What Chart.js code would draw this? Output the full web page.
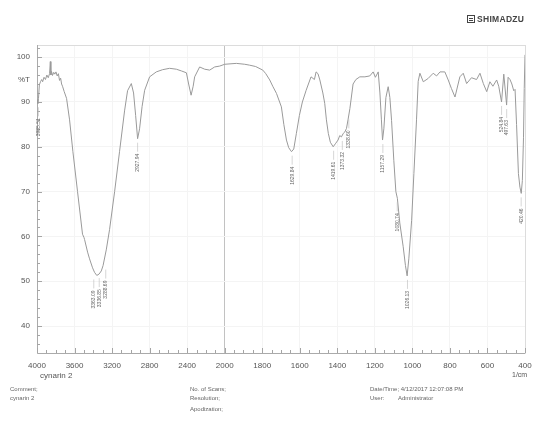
<!DOCTYPE html>
<html>
<head>
<meta charset="utf-8">
<script src="https://cdn.jsdelivr.net/npm/chart.js@4/dist/chart.umd.min.js"></script>
<style>
  html, body { margin:0; padding:0; background:#fff; }
  #wrap { position:relative; width:550px; height:425px; font-family:"Liberation Sans", Arial, sans-serif; color:#555; }
  canvas { position:absolute; left:0; top:0; }
  .t { position:absolute; white-space:nowrap; line-height:1; }
  .f { font-size:6px; color:#666; }
  #logo { position:absolute; left:467px; top:14px; height:10px; display:flex; align-items:center; }
  #logo .ic { width:8px; height:8px; border:1px solid #444; box-sizing:border-box; position:relative; margin-right:2px; }
  #logo .ic:before { content:""; position:absolute; left:1px; right:1px; top:2px; height:1px; background:#444; }
  #logo .ic:after { content:""; position:absolute; left:1px; right:1px; top:4px; height:1px; background:#444; }
  #logo span { font-size:8.5px; font-weight:bold; color:#444; letter-spacing:0.3px; }
</style>
</head>
<body>
<div id="wrap">
  <canvas id="c" width="550" height="425"></canvas>
  <div id="logo"><div class="ic"></div><span>SHIMADZU</span></div>
  <div class="t" style="left:40px;top:372px;font-size:8px;color:#555;">cynarin 2</div>
  <div class="t" style="left:512px;top:371px;font-size:7px;color:#555;">1/cm</div>
  <div class="t f" style="left:10px;top:386px;">Comment;</div>
  <div class="t f" style="left:10px;top:395px;">cynarin 2</div>
  <div class="t f" style="left:190px;top:386px;">No. of Scans;</div>
  <div class="t f" style="left:190px;top:395px;">Resolution;</div>
  <div class="t f" style="left:190px;top:406px;">Apodization;</div>
  <div class="t f" style="left:370px;top:386px;">Date/Time; 4/12/2017 12:07:08 PM</div>
  <div class="t f" style="left:370px;top:395px;">User:</div>
  <div class="t f" style="left:398px;top:395px;">Administrator</div>
</div>
<script>
// ---- data ----
const wavenumbers = [4000,3992,3984,3975,3963,3950,3940,3925,3910,3895,3880,3866,3858,3852,3845,3835,3822,3810,3798,3785,3772,3760,3748,3738,3728,3710,3685,3653,3618,3568,3515,3500,3493,3461,3440,3408,3387,3363,3339,3315,3296,3262,3227,3173,3120,3067,3035,2995,2971,2949,2928,2907,2880,2853,2800,2729,2661,2587,2515,2459,2408,2384,2358,2336,2320,2267,2213,2160,2107,2053,2000,1938,1893,1867,1835,1797,1781,1760,1744,1724,1698,1685,1671,1659,1644,1632,1618,1602,1586,1566,1540,1522,1513,1503,1493,1477,1467,1458,1448,1437,1422,1408,1396,1387,1378,1368,1360,1351,1343,1333,1316,1301,1280,1253,1227,1209,1197,1182,1173,1165,1159,1152,1141,1129,1120,1111,1099,1088,1080,1067,1049,1037,1028,1019,1004,992,978,969,960,942,917,889,871,853,827,809,792,773,747,729,711,685,658,640,622,604,587,571,551,540,525,513,498,490,480,470,460,453,445,435,427,420,414,408,404,400];
const transmittance = [90.5,89.6,90.8,93.8,94.5,95.0,94.5,95.5,95.0,96.0,95.4,96.3,99.0,96.0,96.8,95.9,96.6,96.2,96.7,95.8,96.3,94.8,95.3,94.0,93.5,92.3,90.8,86.0,79.0,70.0,60.5,59.8,59.3,56.5,55.0,53.0,52.0,51.3,51.6,52.3,53.5,57.0,61.5,70.0,79.0,88.0,92.5,94.1,92.0,87.0,81.8,84.0,89.0,92.6,95.6,96.7,97.2,97.5,97.3,96.9,96.5,94.0,91.5,93.5,95.6,97.8,97.3,97.1,97.8,98.0,98.4,98.6,98.4,98.2,97.9,97.1,96.3,94.9,93.5,91.9,88.9,85.0,81.5,79.8,78.9,79.5,83.0,87.0,90.0,92.6,95.6,95.0,96.7,96.3,94.9,92.0,89.7,86.0,83.0,81.0,80.0,80.8,81.5,82.5,82.2,83.0,83.3,84.1,86.0,88.5,94.0,95.0,95.6,95.6,95.8,96.7,95.5,96.7,92.0,86.0,81.5,84.0,91.0,93.4,91.0,85.9,77.0,70.0,68.5,63.0,57.7,53.5,51.2,55.0,63.6,74.0,86.0,94.6,96.4,94.5,95.2,96.4,95.8,96.7,96.7,94.9,93.0,91.1,95.6,96.4,94.1,95.4,95.0,96.4,94.1,92.3,94.5,93.5,94.9,93.5,90.0,96.2,89.3,95.5,95.0,94.0,92.5,92.8,85.0,74.0,71.0,69.6,72.5,82.0,93.0,100.5];
const peakLabels = ['3985.51','3363.09','3336.85','3288.69','2927.94','1629.84','1419.61','1373.32','1338.60','1157.29','1080.74','1026.13','524.84','497.63','420.46'];
const peakWavenumbers = [3985.51,3363.09,3336.85,3288.69,2927.94,1629.84,1419.61,1373.32,1338.60,1157.29,1080.74,1026.13,524.84,497.63,420.46];
const peakTransmittance = [89.7,51.3,51.6,53.5,81.8,78.9,80.0,82.2,87.0,81.5,68.5,51.2,90.0,89.3,69.6];
const xTickWavenumbers = [4000,3600,3200,2800,2400,2000,1800,1600,1400,1200,1000,800,600,400];
const yTickValues = [40,50,60,70,80,90,100];

// ---- wavenumber axis with the usual scale change at 2000 1/cm ----
function toAxis(w){ return w >= 2000 ? (4000 - w) / 2 : 1000 + (2000 - w); }
function fromAxis(u){ return u <= 1000 ? 4000 - 2*u : 2000 - (u - 1000); }

const points = wavenumbers.map((w,i)=>({x: toAxis(w), y: transmittance[i]}));

const labelNudge = {'3363.09': -3, '3336.85': 0, '3288.69': 2, '1629.84': -2};

const decor = {
  id: 'decor',
  beforeDatasetsDraw(chart){
    const {ctx, chartArea:a, scales:{x, y}} = chart;
    ctx.save();
    ctx.strokeStyle = '#dcdcdc'; ctx.lineWidth = 1;
    ctx.strokeRect(a.left+0.5, a.top+0.5, a.right-a.left, a.bottom-a.top);
    ctx.strokeStyle = '#aaa';
    ctx.beginPath();
    ctx.moveTo(a.left+0.5, a.top); ctx.lineTo(a.left+0.5, a.bottom+0.5);
    ctx.lineTo(a.right, a.bottom+0.5); ctx.stroke();
    ctx.strokeStyle = '#a5a5a5';
    ctx.beginPath();
    for (let u = 0; u <= 2600; u += 50){
      const px = Math.round(x.getPixelForValue(u)) + 0.5;
      const len = (u % 200 === 0) ? 5 : 3;
      ctx.moveTo(px, a.bottom); ctx.lineTo(px, a.bottom - len);
    }
    for (let v = 36; v <= 102; v += 2){
      const py = Math.round(y.getPixelForValue(v)) + 0.5;
      const len = (v % 10 === 0) ? 5 : 3;
      ctx.moveTo(a.left, py); ctx.lineTo(a.left + len, py);
    }
    ctx.stroke();
    ctx.restore();
  },
  afterDatasetsDraw(chart){
    const {ctx, scales:{x, y}} = chart;
    ctx.save();
    ctx.font = '5px "Liberation Sans", Arial, sans-serif';
    ctx.fillStyle = '#666';
    ctx.strokeStyle = '#bbb';
    ctx.lineWidth = 0.6;
    peakLabels.forEach((lab, i) => {
      const px = x.getPixelForValue(toAxis(peakWavenumbers[i])) + (labelNudge[lab] || 0);
      const py = y.getPixelForValue(peakTransmittance[i]);
      const top = py + 15;
      ctx.beginPath();
      ctx.moveTo(px, py + 4); ctx.lineTo(px, top - 2); ctx.stroke();
      ctx.save();
      ctx.translate(px, top);
      ctx.rotate(-Math.PI/2);
      ctx.textAlign = 'right';
      ctx.textBaseline = 'middle';
      ctx.fillText(lab, 0, 0);
      ctx.restore();
    });
    ctx.restore();
  }
};

new Chart(document.getElementById('c'), {
  type: 'line',
  data: { datasets: [{
    data: points,
    borderColor: '#9a9a9a',
    borderWidth: 1,
    pointRadius: 0,
    tension: 0,
    fill: false
  }]},
  options: {
    responsive: false,
    animation: false,
    layout: { padding: { left: 0, top: 45, right: 25, bottom: 0 } },
    plugins: { legend: { display: false }, tooltip: { enabled: false } },
    scales: {
      x: {
        type: 'linear', min: 0, max: 2600,
        afterFit(s){ s.height = 72; },
        afterBuildTicks(s){ s.ticks = xTickWavenumbers.map(w => ({value: toAxis(w)})); },
        border: { display: false },
        grid: {
          drawTicks: false,
          color: ctx => (ctx.tick && ctx.tick.value === 1000) ? '#c2c2c2' : '#f4f4f4',
          lineWidth: 1
        },
        ticks: {
          autoSkip: false, maxRotation: 0, padding: 8,
          color: '#555', font: { size: 8, family: '"Liberation Sans", Arial, sans-serif' },
          callback: v => String(fromAxis(v))
        }
      },
      y: {
        min: 34, max: 102.7,
        afterFit(s){ s.width = 37; },
        afterBuildTicks(s){ s.ticks = yTickValues.concat([95]).map(v => ({value: v})); },
        border: { display: false },
        grid: {
          drawTicks: false,
          color: ctx => (ctx.tick && ctx.tick.value === 95) ? 'rgba(0,0,0,0)' : '#f4f4f4'
        },
        ticks: {
          padding: 7,
          color: '#555', font: { size: 8, family: '"Liberation Sans", Arial, sans-serif' },
          callback: v => v === 95 ? '%T' : String(v)
        }
      }
    }
  },
  plugins: [decor]
});
</script>
</body>
</html>
